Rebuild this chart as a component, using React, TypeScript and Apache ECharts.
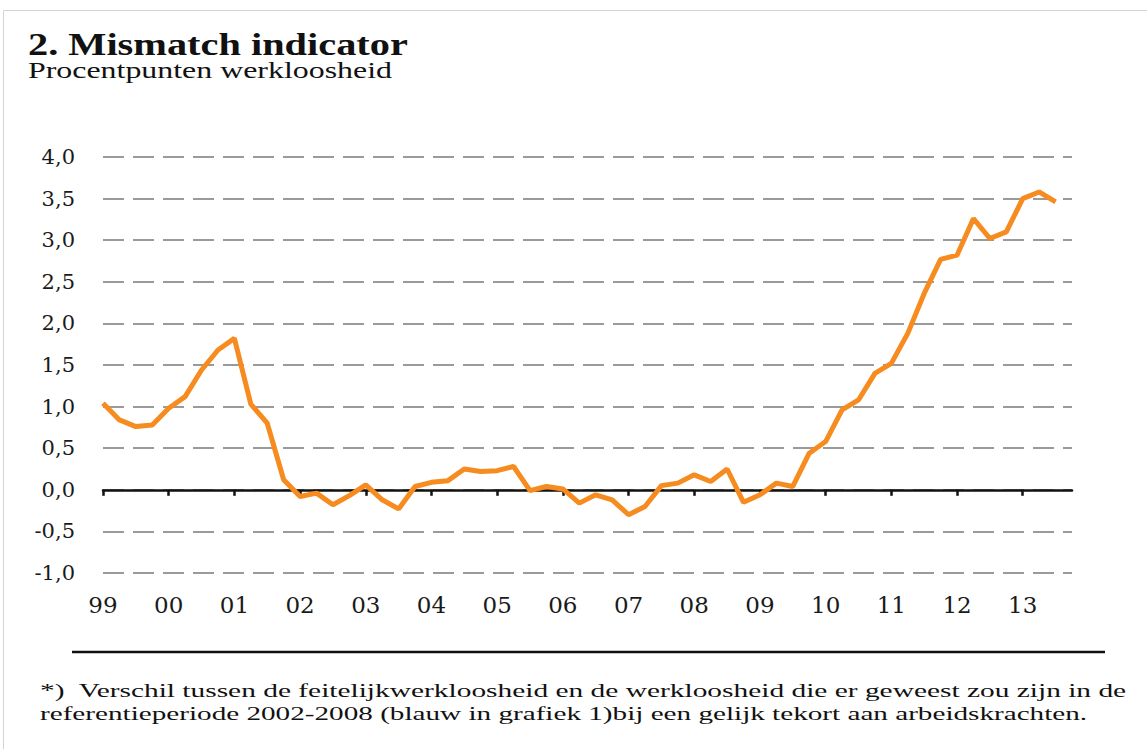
import React, { useEffect, useRef } from "react";
import * as echarts from "echarts";

const years = ["99", "00", "01", "02", "03", "04", "05", "06", "07", "08", "09", "10", "11", "12", "13"];
const quarters = ["K1", "K2", "K3", "K4"];
const categories = years.flatMap((y) => quarters.map((q) => y + q));

// Mismatch indicator, quarterly 1999K1 - 2013K3 (procentpunten)
const mismatch = [
  1.04, 0.84, 0.76, 0.78, 0.98, 1.12, 1.44, 1.68,
  1.82, 1.03, 0.8, 0.12, -0.08, -0.04, -0.18, -0.07,
  0.06, -0.12, -0.23, 0.04, 0.09, 0.11, 0.25, 0.22,
  0.23, 0.28, -0.01, 0.04, 0.01, -0.16, -0.06, -0.12,
  -0.3, -0.2, 0.05, 0.08, 0.18, 0.1, 0.25, -0.15,
  -0.06, 0.08, 0.04, 0.44, 0.58, 0.96, 1.08, 1.4,
  1.52, 1.88, 2.36, 2.77, 2.82, 3.26, 3.02, 3.1,
  3.5, 3.58, 3.46,
];

const title = "2. Mismatch indicator";
const subtitle = "Procentpunten werkloosheid";
const footnote1 =
  "*)  Verschil tussen de feitelijkwerkloosheid en de werkloosheid die er geweest zou zijn in de";
const footnote2 =
  "referentieperiode 2002-2008 (blauw in grafiek 1)bij een gelijk tekort aan arbeidskrachten.";

const SERIF = "Liberation Serif";

function fitScale(text: string, size: number, bold: boolean, target: number): number {
  const c = document.createElement("canvas").getContext("2d");
  if (!c) return 1;
  c.font = `${bold ? "bold " : ""}${size}px "${SERIF}"`;
  const w = c.measureText(text).width;
  return w > 0 ? target / w : 1;
}

function txt(text: string, x: number, y: number, size: number, bold: boolean, target: number) {
  return {
    type: "text",
    x,
    y,
    scaleX: fitScale(text, size, bold, target),
    silent: true,
    style: {
      text,
      fontFamily: SERIF,
      fontSize: size,
      fontWeight: bold ? "bold" : "normal",
      fill: "#111",
      verticalAlign: "middle",
      align: "left",
    },
  };
}

export default function App() {
  const ref = useRef<HTMLDivElement>(null);

  useEffect(() => {
    if (!ref.current) return;
    const chart = echarts.init(ref.current, null, { renderer: "svg" });

    chart.setOption({
      animation: false,
      backgroundColor: "#ffffff",
      grid: { left: 103, right: 75, top: 157, bottom: 176, containLabel: false },
      xAxis: {
        type: "category",
        data: categories,
        boundaryGap: false,
        axisLine: { show: true, onZero: true, lineStyle: { color: "#111", width: 2.5 } },
        axisTick: { show: true, interval: 3, length: 6, inside: false, lineStyle: { color: "#111", width: 2.5 } },
        axisLabel: {
          interval: 3,
          margin: 20,
          formatter: (v: string) => v.slice(0, 2),
          fontFamily: "DejaVu Serif",
          fontSize: 23,
          color: "#1a1a1a",
        },
        splitLine: { show: false },
      },
      yAxis: {
        type: "value",
        min: -1,
        max: 4,
        interval: 0.5,
        axisLine: { show: false },
        axisTick: { show: false },
        axisLabel: {
          margin: 28,
          formatter: (v: number) => v.toFixed(1).replace(".", ","),
          fontFamily: "DejaVu Serif",
          fontSize: 21,
          color: "#1a1a1a",
        },
        splitLine: { show: true, lineStyle: { color: "#9a9a9a", width: 2, type: [21, 9] } },
      },
      series: [
        {
          type: "line",
          data: mismatch,
          symbol: "none",
          lineStyle: { color: "#F68B1F", width: 5 },
          z: 1,
        },
      ],
      graphic: [
        {
          type: "rect",
          silent: true,
          shape: { x: 3.5, y: 10.5, width: 1150, height: 745 },
          style: { fill: "none", stroke: "#d4d4d4", lineWidth: 1 },
        },
        txt(title, 28, 44, 32, true, 380),
        txt(subtitle, 28, 70, 23, false, 364),
        {
          type: "line",
          silent: true,
          shape: { x1: 72, y1: 652, x2: 1105, y2: 652 },
          style: { stroke: "#111", lineWidth: 2.5 },
        },
        txt(footnote1, 40, 690, 19, false, 1087),
        txt(footnote2, 40, 713, 19, false, 1048),
      ],
    });

    return () => chart.dispose();
  }, []);

  return (
    <div
      ref={ref}
      style={{ position: "absolute", left: 0, top: 0, width: 1147, height: 749, background: "#fff" }}
    />
  );
}
